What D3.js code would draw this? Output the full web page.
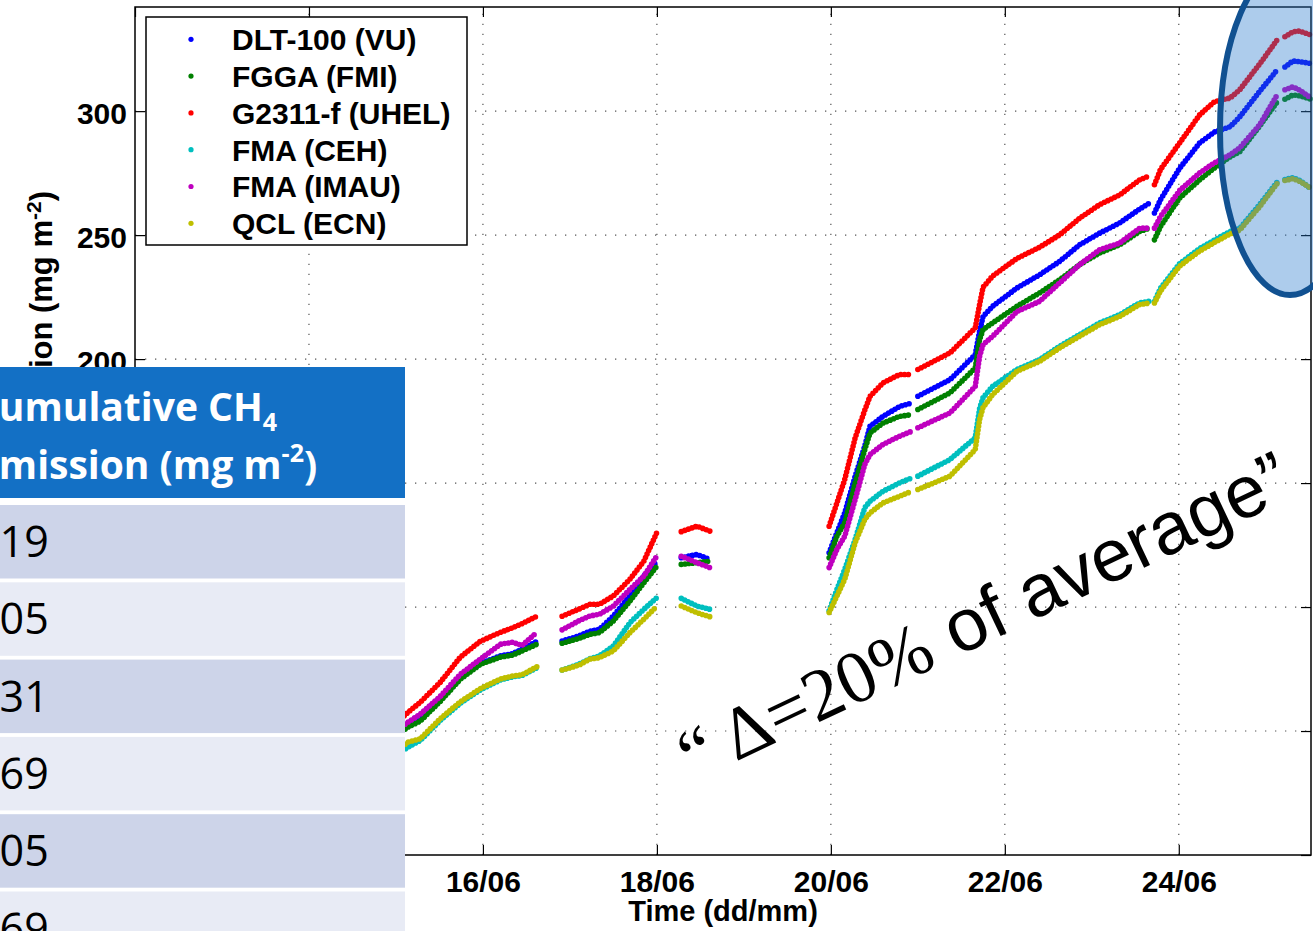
<!DOCTYPE html>
<html>
<head>
<meta charset="utf-8">
<script src="https://cdn.jsdelivr.net/npm/d3@7"></script>
<style>
body { margin: 0; background: #fff; }
svg { display: block; }
.axis text { font-family: "Liberation Sans", Arial, sans-serif; font-size: 30px; font-weight: bold; fill: #000; }
.axis line { stroke: #000; stroke-width: 1.2; }
.axis path { display: none; }
</style>
</head>
<body>
<script>
// tijdstippen in dagen van juni (null in de reeksen = gat in de meting)
var days = [15.00, 15.14, 15.28, 15.51, 15.74, 15.97, 16.20, 16.34, 16.45, 16.62,
    16.76,
    16.91, 17.10, 17.23, 17.34, 17.50, 17.69, 17.85, 18.00,
    18.14,
    18.28, 18.46, 18.61,
    19.30,
    19.98, 20.07, 20.16, 20.28, 20.39, 20.45, 20.60, 20.79, 20.93,
    20.965,
    21.00, 21.37, 21.66,
    21.71, 21.75, 21.86, 22.14, 22.40, 22.63, 22.86, 23.09, 23.32, 23.55, 23.66,
    23.69,
    23.72, 23.79, 24.01, 24.24, 24.41, 24.59, 24.70, 24.93, 25.13,
    25.175,
    25.22, 25.31, 25.39, 25.52];

var dlt = [48.5, 52.2, 54.5, 62.5, 71.3, 77.3, 80.3, 81.2, 83.0, 86.2,
    null,
    86.3, 88.3, 90.3, 91.0, 96.4, 104.5, 112.5, 118.5,
    null,
    119.9, 121.2, 119.2,
    null,
    121.9, 130.0, 138.0, 152.8, 164.9, 172.9, 176.9, 180.9, 182.3,
    null,
    185.0, 191.7, 201.8,
    211.2, 217.2, 221.3, 228.7, 234.0, 239.4, 246.1, 250.8, 254.9, 260.5, 262.9,
    null,
    258.9, 264.3, 277.0, 287.2, 291.6, 293.7, 297.7, 308.0, 316.6,
    null,
    317.8, 320.2, 320.0, 319.2];

var fgga = [48.0, 51.6, 54.0, 62.0, 70.9, 76.9, 79.8, 80.6, 82.3, 85.0,
    null,
    85.4, 87.3, 89.0, 89.7, 94.4, 102.4, 109.8, 116.5,
    null,
    117.2, 117.9, 118.5,
    null,
    119.9, 128.6, 134.0, 150.1, 163.5, 170.2, 174.2, 176.9, 177.6,
    null,
    179.7, 186.4, 196.4,
    207.9, 211.9, 214.6, 221.3, 226.7, 232.0, 238.1, 242.8, 246.1, 251.5, 252.8,
    null,
    248.1, 253.5, 265.0, 272.3, 277.1, 281.6, 283.6, 294.0, 303.7,
    null,
    304.8, 306.5, 306.2, 304.8];

var g2311 = [53.0, 57.6, 61.6, 69.7, 79.8, 86.2, 89.8, 91.6, 93.3, 96.3,
    null,
    96.3, 99.1, 101.1, 101.1, 104.5, 111.2, 118.5, 130.1,
    null,
    130.4, 132.6, 130.6,
    null,
    132.6, 142.0, 151.5, 168.3, 179.4, 185.0, 190.4, 193.8, 193.8,
    null,
    195.8, 202.5, 212.6,
    222.0, 229.0, 233.5, 240.6, 245.1, 250.1, 256.8, 262.3, 266.2, 272.3, 273.9,
    null,
    270.3, 276.5, 287.2, 298.5, 303.8, 305.3, 308.6, 319.0, 328.7,
    null,
    330.0, 332.0, 332.3, 330.7];

var fmaCeh = [40.5, 43.5, 46.2, 54.3, 61.2, 66.6, 70.6, 71.8, 72.4, 75.5,
    null,
    74.6, 76.9, 79.2, 80.3, 84.3, 93.7, 99.1, 103.8,
    null,
    103.5, 100.4, 99.1,
    null,
    98.5, 107.1, 115.2, 127.3, 140.1, 142.7, 146.7, 150.1, 152.1,
    null,
    152.8, 159.5, 168.3,
    180.0, 184.5, 189.0, 195.8, 199.8, 205.2, 209.9, 214.6, 217.9, 222.7, 223.3,
    null,
    223.2, 228.6, 238.5, 244.6, 248.0, 251.5, 252.7, 262.3, 271.3,
    null,
    272.4, 273.2, 272.1, 268.7];

var fmaImau = [50.0, 53.6, 56.8, 64.0, 72.9, 79.0, 85.0, 85.8, 84.5, 89.8,
    null,
    90.8, 94.4, 96.4, 97.1, 100.4, 107.1, 112.5, 120.6,
    null,
    120.5, 117.9, 115.9,
    null,
    115.9, 123.3, 128.6, 143.4, 157.5, 161.5, 165.6, 168.9, 170.9,
    null,
    172.3, 178.3, 189.0,
    201.1, 205.8, 209.2, 219.2, 223.3, 230.7, 238.1, 244.1, 246.8, 252.8, 252.8,
    null,
    252.8, 257.5, 268.0, 275.1, 279.2, 282.4, 285.2, 294.5, 306.5,
    null,
    308.6, 309.8, 308.5, 305.3];

var qcl = [42.0, 45.5, 46.9, 55.0, 61.8, 67.1, 71.0, 72.2, 72.7, 75.9,
    null,
    74.6, 76.5, 79.0, 79.6, 82.3, 89.7, 95.1, 100.4,
    null,
    100.4, 97.7, 96.1,
    null,
    97.8, 104.5, 111.2, 126.0, 135.3, 138.0, 142.0, 144.7, 146.7,
    null,
    147.4, 152.8, 163.5,
    175.6, 180.5, 185.7, 195.1, 199.1, 204.5, 209.2, 213.9, 217.2, 222.0, 222.6,
    null,
    222.6, 227.5, 237.5, 243.6, 247.0, 250.5, 252.0, 261.5, 270.8,
    null,
    272.0, 272.8, 271.7, 268.9];

var seriesNames = ["DLT-100 (VU)", "FGGA (FMI)", "G2311-f (UHEL)", "FMA (CEH)", "FMA (IMAU)", "QCL (ECN)"];
var seriesValues = [dlt, fgga, g2311, fmaCeh, fmaImau, qcl];
var seriesColors = ["#0000ff", "#008000", "#ff0000", "#00bfbf", "#bf00bf", "#bfbf00"];

var xTicks = [12, 14, 16, 18, 20, 22, 24];
var yTicks = [0, 50, 100, 150, 200, 250, 300];

// tabel met eindwaarden (eerste cijfer valt buiten beeld)
var tableValues = ["319", "305", "331", "269", "305", "269"];

var width = 1313,
    height = 931,
    margin = { top: 7, right: 2, bottom: 76, left: 135 };

var x = d3.scaleLinear()
    .domain([12, 25.52])
    .range([margin.left, width - margin.right]);

var y = d3.scaleLinear()
    .domain([0, 342])
    .range([height - margin.bottom, margin.top]);

var svg = d3.select("body").append("svg")
    .attr("width", width)
    .attr("height", height);

// grid (stippellijnen)
var grid = svg.append("g")
    .attr("stroke", "#555")
    .attr("stroke-width", 1.2)
    .attr("stroke-dasharray", "1.3,8.7");

grid.selectAll(".gx")
    .data(xTicks.slice(1))
    .enter().append("line")
    .attr("x1", function (d) { return x(d); })
    .attr("x2", function (d) { return x(d); })
    .attr("y1", y.range()[0])
    .attr("y2", y.range()[1]);

grid.selectAll(".gy")
    .data(yTicks.slice(1))
    .enter().append("line")
    .attr("x1", x.range()[0])
    .attr("x2", x.range()[1])
    .attr("y1", function (d) { return y(d); })
    .attr("y2", function (d) { return y(d); });

// de reeksen als dichte puntjes
var line = d3.line()
    .defined(function (d) { return d[1] != null; })
    .x(function (d) { return x(d[0]); })
    .y(function (d) { return y(d[1]); });

seriesValues.forEach(function (vals, i) {
    svg.append("path")
        .datum(days.map(function (t, j) { return [t, vals[j]]; }))
        .attr("d", line)
        .attr("fill", "none")
        .attr("stroke", seriesColors[i])
        .attr("stroke-width", 5.6)
        .attr("stroke-linecap", "round")
        .attr("stroke-dasharray", "0,3.8");
});

// assen
var fmt = function (d) { return d3.format("02d")(d) + "/06"; };

svg.append("g")
    .attr("class", "axis")
    .attr("transform", "translate(0," + y.range()[0] + ")")
    .call(d3.axisBottom(x).tickValues(xTicks).tickFormat(fmt).tickSize(-10).tickPadding(16));

svg.append("g")
    .attr("class", "axis")
    .attr("transform", "translate(0," + y.range()[1] + ")")
    .call(d3.axisTop(x).tickValues(xTicks).tickFormat("").tickSize(-10));

svg.append("g")
    .attr("class", "axis")
    .attr("transform", "translate(" + x.range()[0] + ",0)")
    .call(d3.axisLeft(y).tickValues(yTicks).tickSize(-10).tickPadding(8))
    .selectAll("text").attr("dy", "0.4em");

svg.append("g")
    .attr("class", "axis")
    .attr("transform", "translate(" + x.range()[1] + ",0)")
    .call(d3.axisRight(y).tickValues(yTicks).tickFormat("").tickSize(-10));

// kader
svg.append("rect")
    .attr("x", x.range()[0])
    .attr("y", y.range()[1])
    .attr("width", x.range()[1] - x.range()[0])
    .attr("height", y.range()[0] - y.range()[1])
    .attr("fill", "none")
    .attr("stroke", "#000")
    .attr("stroke-width", 1.5);

// as titels
svg.append("text")
    .attr("x", (x.range()[0] + x.range()[1]) / 2)
    .attr("y", 921)
    .attr("text-anchor", "middle")
    .style("font-family", "Liberation Sans, Arial, sans-serif")
    .style("font-size", "29px")
    .style("font-weight", "bold")
    .text("Time (dd/mm)");

var ylab = svg.append("text")
    .attr("transform", "translate(52,191) rotate(-90)")
    .attr("text-anchor", "end")
    .style("font-family", "Liberation Sans, Arial, sans-serif")
    .style("font-size", "31px")
    .style("font-weight", "bold");
ylab.append("tspan").text("Cumulative CH");
ylab.append("tspan").attr("baseline-shift", "sub").style("font-size", "21px").text("4");
ylab.append("tspan").text(" emission (mg m");
ylab.append("tspan").attr("baseline-shift", "super").style("font-size", "21px").text("-2");
ylab.append("tspan").text(")");

// legenda
var legend = svg.append("g");
legend.append("rect")
    .attr("x", 146)
    .attr("y", 17)
    .attr("width", 321)
    .attr("height", 228)
    .attr("fill", "#fff")
    .attr("stroke", "#000")
    .attr("stroke-width", 1.5);

var items = legend.selectAll(".item")
    .data(seriesNames)
    .enter().append("g")
    .attr("transform", function (d, i) { return "translate(0," + (39.3 + i * 36.8) + ")"; });

items.append("circle")
    .attr("cx", 191)
    .attr("r", 2.6)
    .attr("fill", function (d, i) { return seriesColors[i]; });

items.append("text")
    .attr("x", 232)
    .attr("dy", "0.36em")
    .style("font-family", "Liberation Sans, Arial, sans-serif")
    .style("font-size", "30px")
    .style("font-weight", "bold")
    .text(function (d) { return d; });

// annotatie
var note = svg.append("text")
    .attr("transform", "translate(693,782) rotate(-25.4)")
    .style("font-size", "74px");
note.append("tspan").style("font-family", "Liberation Serif, Times New Roman, serif").text("\u201c \u0394=20%");
note.append("tspan").style("font-family", "Liberation Sans, Arial, sans-serif").text(" of average\u201d");

// ellips
svg.append("ellipse")
    .attr("cx", 1290)
    .attr("cy", 130)
    .attr("rx", 70)
    .attr("ry", 165)
    .attr("fill", "rgb(40,122,205)")
    .attr("fill-opacity", 0.38)
    .attr("stroke", "#115191")
    .attr("stroke-width", 6);

// tabel links onder
var table = svg.append("g");
table.append("rect")
    .attr("x", 0).attr("y", 367)
    .attr("width", 405).attr("height", 131)
    .attr("fill", "#1370c5");

table.append("rect")
    .attr("x", 0).attr("y", 498)
    .attr("width", 405).attr("height", height - 498)
    .attr("fill", "#fff");

var h1 = table.append("text")
    .attr("x", -26).attr("y", 421)
    .attr("fill", "#fff")
    .style("font-family", "Open Sans, sans-serif")
    .style("font-weight", "bold")
    .style("font-size", "39px");
h1.append("tspan").text("Cumulative CH");
h1.append("tspan").attr("dy", 10).style("font-size", "25px").text("4");

var h2 = table.append("text")
    .attr("x", -23).attr("y", 479)
    .attr("fill", "#fff")
    .style("font-family", "Open Sans, sans-serif")
    .style("font-weight", "bold")
    .style("font-size", "39px");
h2.append("tspan").text("Emission (mg m");
h2.append("tspan").attr("dy", -17).style("font-size", "25px").text("-2");
h2.append("tspan").attr("dy", 17).text(")");

var rows = table.selectAll(".row")
    .data(tableValues)
    .enter().append("g")
    .attr("transform", function (d, i) { return "translate(0," + (505 + i * 77.3) + ")"; });

rows.append("rect")
    .attr("width", 405)
    .attr("height", 73.5)
    .attr("fill", function (d, i) { return i % 2 === 0 ? "#cdd4e9" : "#e8ebf5"; });

rows.append("text")
    .attr("x", -25)
    .attr("y", 52)
    .style("font-family", "Open Sans, sans-serif")
    .style("font-size", "43px")
    .attr("fill", "#000")
    .text(function (d) { return d; });
</script>
</body>
</html>
